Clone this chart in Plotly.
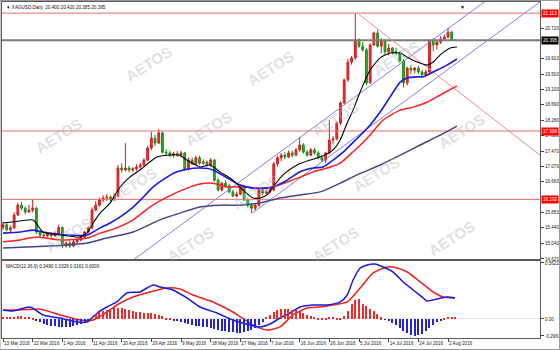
import plotly.graph_objects as go

# ---------------- data ----------------
bars = list(range(123))
opens = [15.45,15.52,15.39,15.44,15.78,16.04,15.96,15.86,15.91,15.96,15.33,15.25,15.23,15.28,15.23,15.28,15.45,14.96,15.04,14.96,
         15.07,15.12,15.20,15.33,15.44,15.91,16.04,16.18,16.23,16.25,16.20,16.28,17.02,16.97,17.02,16.97,17.00,17.05,17.10,17.23,
         17.55,17.81,17.68,17.95,17.44,17.42,17.36,17.40,17.36,17.42,16.99,17.23,17.13,17.29,17.15,17.18,17.10,17.23,16.70,16.44,
         16.62,16.55,16.39,16.28,16.33,16.52,16.18,16.04,15.96,16.04,16.44,16.36,16.39,16.44,17.13,17.29,17.36,17.31,17.42,17.36,
         17.50,17.63,17.44,17.36,17.50,17.42,17.29,17.23,17.42,17.76,17.79,18.21,18.74,19.35,19.82,19.93,20.40,20.24,20.14,19.27,
         20.27,20.59,20.24,20.38,20.09,20.19,20.09,20.06,19.85,19.27,19.66,19.61,19.66,19.56,19.48,19.56,20.40,20.27,20.35,20.43,
         20.48,20.61,20.40]
highs = [15.60,15.58,15.50,15.85,16.10,16.12,16.00,16.05,16.18,16.00,15.38,15.30,15.32,15.32,15.35,15.52,15.48,15.08,15.10,15.12,
         15.16,15.22,15.36,15.48,15.98,16.15,16.25,16.30,16.33,16.30,16.35,17.10,17.15,17.68,17.08,17.05,17.12,17.15,17.28,17.60,
         17.98,17.90,18.05,17.98,17.52,17.48,17.45,17.47,17.48,17.45,17.30,17.30,17.35,17.35,17.25,17.22,17.28,17.26,16.75,16.65,
         16.70,16.60,16.45,16.40,16.55,16.55,16.22,16.10,16.08,16.48,16.50,16.45,16.50,17.18,17.35,17.42,17.45,17.48,17.48,17.55,
         17.84,17.68,17.50,17.55,17.55,17.48,17.35,17.45,18.29,17.86,18.25,18.78,19.38,19.90,19.98,21.11,20.45,20.35,20.20,20.32,
         20.62,20.67,20.45,20.42,20.30,20.22,20.20,20.10,19.90,19.70,19.75,19.70,19.72,19.62,19.62,20.42,20.45,20.40,20.50,20.55,
         20.72,20.65,20.42]
lows = [15.38,15.35,15.30,15.42,15.75,15.90,15.80,15.84,15.85,15.28,15.20,15.18,15.20,15.18,15.20,15.25,14.90,14.92,14.90,14.93,
        15.02,15.08,15.16,15.30,15.40,15.88,16.00,16.12,16.15,16.12,16.15,16.25,16.90,16.93,16.90,16.92,16.95,17.00,17.05,17.20,
        17.50,17.60,17.65,17.40,17.35,17.30,17.30,17.32,17.30,16.95,16.95,17.10,17.10,17.10,17.10,17.05,17.05,16.66,16.40,16.40,
        16.50,16.35,16.25,16.25,16.30,16.15,15.98,15.83,15.90,16.00,16.30,16.32,16.35,16.40,17.05,17.20,17.25,17.28,17.30,17.33,
        17.45,17.40,17.32,17.33,17.38,17.25,17.18,17.15,17.38,17.66,17.75,18.15,18.70,19.30,19.75,19.88,20.20,20.10,19.21,19.25,
        20.25,20.20,20.05,20.02,20.00,20.02,20.00,19.80,19.15,19.20,19.50,19.52,19.50,19.40,19.45,19.50,20.10,20.15,20.30,20.38,
        20.45,20.38,20.385]
closes = [15.52,15.39,15.44,15.78,16.04,15.96,15.86,15.91,15.96,15.33,15.25,15.23,15.28,15.23,15.28,15.45,14.96,15.04,14.96,15.07,
          15.12,15.20,15.33,15.44,15.91,16.04,16.18,16.23,16.25,16.20,16.28,17.02,16.97,17.02,16.97,17.00,17.05,17.10,17.23,17.55,
          17.81,17.68,17.95,17.44,17.42,17.36,17.40,17.36,17.42,16.99,17.23,17.13,17.29,17.15,17.18,17.10,17.23,16.70,16.44,16.62,
          16.55,16.39,16.28,16.33,16.52,16.18,16.04,15.96,16.04,16.44,16.36,16.39,16.44,17.13,17.29,17.36,17.31,17.42,17.36,17.50,
          17.63,17.44,17.36,17.50,17.42,17.29,17.23,17.42,17.76,17.79,18.21,18.74,19.35,19.82,19.93,20.40,20.24,20.14,19.27,20.27,
          20.59,20.24,20.38,20.09,20.19,20.09,20.06,19.85,19.27,19.66,19.61,19.66,19.56,19.48,19.56,20.40,20.27,20.35,20.43,20.48,
          20.61,20.40,20.395]

date_ticks = [0, 8, 16, 24, 32, 40, 48, 56, 64, 72, 80, 88, 96, 104, 112, 120]
date_labels = ["13 Mar 2016", "22 Mar 2016", "1 Apr 2016", "11 Apr 2016", "20 Apr 2016", "29 Apr 2016",
               "9 May 2016", "18 May 2016", "27 May 2016", "7 Jun 2016", "16 Jun 2016", "26 Jun 2016",
               "5 Jul 2016", "14 Jul 2016", "24 Jul 2016", "2 Aug 2016"]

price_ticks = [20.720, 19.910, 19.500, 19.100, 18.690, 18.280, 17.880, 17.470, 17.070, 16.660, 15.850, 15.440, 15.040, 14.620]

# moving averages
ma1_x = [0,4.6,8.1,10.8,15.4,20.8,22.7,24.3,26.2,28.9,31.6,34.2,36.9,39.6,41.5,44.2,47.7,49.6,53.1,55.8,58.5,62,64.7,67.4,69.3,
         71.2,72.8,75.5,79.3,82.8,85.5,89,90.9,92.8,94.4,96.3,99,101.7,104.4,107.1,109,111.7,114.3,116,117.9,120.6,122.4]
ma1_y = [15.57,15.62,15.65,15.33,15.25,15.20,15.31,15.57,15.83,16.10,16.52,16.78,16.97,17.18,17.31,17.36,17.36,17.23,17.05,17.10,
         16.92,16.70,16.44,16.23,16.23,16.31,16.52,16.84,17.10,17.23,17.31,17.50,17.76,18.21,18.55,19.03,19.61,19.93,20.06,20.06,
         19.95,19.82,19.74,19.82,20.01,20.19,20.22]
ma2_x = [0,4.6,8.1,10.8,17.3,22.7,24.3,26.2,28.9,31.6,35.1,37.8,40.5,44.2,46.9,49.6,53.1,56.6,60.4,64,67.4,71.2,72.8,76.6,80.1,
         83.6,86.3,89,91.7,94.4,96.3,99,101.7,104.4,107.1,109,111.7,113.3,116,119.7,122.4]
ma2_y = [15.30,15.33,15.38,15.33,15.25,15.25,15.33,15.44,15.57,15.73,15.99,16.25,16.52,16.78,16.92,16.99,17.02,16.97,16.76,16.57,
         16.49,16.49,16.52,16.70,16.92,17.02,17.05,17.23,17.44,17.70,17.88,18.16,18.50,18.90,19.29,19.40,19.43,19.43,19.56,19.74,19.90]
ma3_x = [0,4.6,9,15.4,22.7,26.2,30.7,35.1,39.6,44.2,49.6,53.1,56.6,60.4,64.7,69.3,72.8,76.6,80.1,83.6,87.4,90.9,94.4,96.3,99,
         102.5,107.1,110.6,114.3,117.9,122.4]
ma3_y = [15.07,15.12,15.20,15.12,15.17,15.30,15.44,15.65,15.99,16.25,16.49,16.60,16.62,16.52,16.52,16.49,16.52,16.65,16.78,16.92,
         17.02,17.15,17.45,17.62,17.90,18.29,18.55,18.63,18.76,18.95,19.19]
ma4_x = [0,8.1,17.3,22.7,28,35.1,42.3,47.7,53.1,58.5,63.9,69.3,74.7,80.1,85.5,90.9,95.5,101.7,107.1,112.5,117.9,122.4]
ma4_y = [14.91,14.94,14.99,15.04,15.17,15.33,15.65,15.83,15.99,16.04,16.04,16.10,16.23,16.31,16.39,16.62,16.84,17.10,17.36,17.63,
         17.89,18.13]

# drawn lines
channel_up_x = [35.1, 130.5]
channel_up_y = [14.59, 21.46]
channel_low_x = [67.2, 144.8]
channel_low_y = [15.83, 21.41]
down_line_x = [95.5, 144.8]
down_line_y = [21.116, 17.36]
h_levels = [21.113, 17.998, 16.192]
last_price = 20.395

# MACD
macd_x = [0,2.7,7.3,10.8,15.4,20,22.7,25.4,28,30.7,33.4,36.9,38.8,40.5,42.3,45.8,49.6,53.1,57.7,62,66.6,69.3,72,74.7,77.4,80.1,
          83.6,87.4,90.9,92.8,94.4,96.3,98.2,100.3,102.5,105.2,107.9,110.6,113.3,114.3,117,119.7,121.9]
macd_y = [0.010,-0.002,0.045,-0.049,-0.085,-0.132,-0.132,-0.026,0.045,0.104,0.210,0.221,0.268,0.304,0.280,0.245,0.151,0.045,
          -0.026,-0.108,-0.167,-0.190,-0.155,-0.085,-0.026,0.045,0.068,0.068,0.104,0.186,0.362,0.503,0.539,0.550,0.515,0.456,
          0.339,0.245,0.151,0.115,0.139,0.162,0.151]
signal_x = [0,4.6,9.9,15.4,20.8,24.3,28,31.6,35.1,39.6,44.2,47.7,51.2,56.6,62,67.4,71.2,74.7,78.2,82,85.5,89,92.8,96.3,99.8,
            103.6,106.3,109,112.5,116,118.7,121.9]
signal_y = [0.010,0.010,0.021,-0.049,-0.108,-0.108,-0.014,0.092,0.162,0.221,0.268,0.256,0.186,0.104,-0.014,-0.167,-0.226,-0.190,
            -0.049,0.033,0.045,0.068,0.104,0.268,0.445,0.515,0.503,0.456,0.339,0.221,0.162,0.151]
hist = [0.020,0.020,0.016,0.016,0.024,0.024,0.016,0.016,0.008,-0.008,-0.024,-0.040,-0.048,-0.056,-0.056,-0.060,-0.064,-0.064,-0.060,-0.056,
        -0.048,-0.040,-0.024,-0.008,0.016,0.040,0.056,0.064,0.072,0.080,0.088,0.088,0.088,0.080,0.072,0.064,0.056,0.056,0.048,0.048,
        0.048,0.040,0.032,0.024,0.008,0.008,-0.008,-0.016,-0.024,-0.032,-0.040,-0.048,-0.056,-0.056,-0.064,-0.064,-0.072,-0.080,-0.088,-0.096,
        -0.096,-0.104,-0.104,-0.112,-0.112,-0.104,-0.096,-0.088,-0.072,-0.048,-0.024,0.016,0.032,0.056,0.072,0.080,0.080,0.080,0.072,0.072,
        0.064,0.048,0.032,0.024,0.016,0.008,0.008,0.008,0.016,0.016,0.008,0.008,0.027,0.067,0.120,0.155,0.160,0.120,0.107,0.080,
        0.067,0.040,0.013,-0.005,-0.013,-0.030,-0.050,-0.070,-0.093,-0.115,-0.128,-0.133,-0.128,-0.120,-0.095,-0.070,-0.045,-0.024,-0.008,0.010,
        0.016,0.020,0.016]

# ---------------- figure ----------------
FONT = "Liberation Sans"
fig = go.Figure()

for lv in h_levels:
    fig.add_trace(go.Scatter(x=[-1, 150], y=[lv, lv], mode="lines", line=dict(color="#ef6a6a", width=1),
                             xaxis="x", yaxis="y", hoverinfo="skip", showlegend=False))
fig.add_trace(go.Scatter(x=[-1, 150], y=[last_price, last_price], mode="lines", line=dict(color="#7a7a7a", width=2),
                         xaxis="x", yaxis="y", hoverinfo="skip", showlegend=False))

fig.add_trace(go.Scatter(x=channel_up_x, y=channel_up_y, mode="lines", line=dict(color="#7f7fe6", width=1),
                         xaxis="x", yaxis="y", showlegend=False))
fig.add_trace(go.Scatter(x=channel_low_x, y=channel_low_y, mode="lines", line=dict(color="#7f7fe6", width=1),
                         xaxis="x", yaxis="y", showlegend=False))
fig.add_trace(go.Scatter(x=down_line_x, y=down_line_y, mode="lines", line=dict(color="#f08a8a", width=1),
                         xaxis="x", yaxis="y", showlegend=False))

for xs, ys, col, w in [(ma4_x, ma4_y, "#45458a", 1.5), (ma3_x, ma3_y, "#ff2020", 1.5),
                       (ma2_x, ma2_y, "#1a1ae0", 1.6), (ma1_x, ma1_y, "#000000", 1.1)]:
    fig.add_trace(go.Scatter(x=xs, y=ys, mode="lines", line=dict(color=col, width=w, shape="spline", smoothing=0.6),
                             xaxis="x", yaxis="y", showlegend=False))

fig.add_trace(go.Candlestick(x=bars, open=opens, high=highs, low=lows, close=closes,
                             increasing=dict(line=dict(color="#d41a1a", width=1), fillcolor="#f03030"),
                             decreasing=dict(line=dict(color="#1c8c1c", width=1), fillcolor="#28b028"),
                             whiskerwidth=0, xaxis="x", yaxis="y", showlegend=False))

fig.add_trace(go.Bar(x=bars, y=hist, width=0.32,
                     marker=dict(color=["#ee2a2a" if v >= 0 else "#2222dd" for v in hist], line=dict(width=0)),
                     xaxis="x2", yaxis="y3", showlegend=False))
fig.add_trace(go.Scatter(x=signal_x, y=signal_y, mode="lines", line=dict(color="#ee2020", width=1.5, shape="spline", smoothing=0.6),
                         xaxis="x2", yaxis="y2", showlegend=False))
fig.add_trace(go.Scatter(x=macd_x, y=macd_y, mode="lines", line=dict(color="#1a1ae0", width=1.5, shape="spline", smoothing=0.6),
                         xaxis="x2", yaxis="y2", showlegend=False))

xr = [-0.27, 144.8]
axis_common = dict(showgrid=False, zeroline=False, linecolor="#5a5a5a", linewidth=1, showline=True, mirror=True,
                   automargin=False)
tf = dict(size=4.6, family=FONT, color="#222")
fig.update_layout(
    width=560, height=350,
    margin=dict(l=2, r=20, t=2, b=12, autoexpand=False),
    paper_bgcolor="white", plot_bgcolor="white",
    font=dict(family=FONT, size=5, color="#333333"),
    bargap=0,
    xaxis=dict(domain=[0, 1], range=xr, anchor="y", showticklabels=False, ticks="",
               rangeslider=dict(visible=False), **axis_common),
    yaxis=dict(domain=[0.2351, 1], range=[14.617, 21.407], side="right", anchor="x",
               tickvals=price_ticks, ticktext=["%.3f" % v for v in price_ticks],
               ticks="outside", ticklen=3, tickcolor="#444", tickfont=tf, tickangle=0, **axis_common),
    xaxis2=dict(domain=[0, 1], range=xr, anchor="y2", tickvals=date_ticks, ticktext=date_labels,
                ticks="outside", ticklen=3, tickcolor="#444", ticklabelposition="outside right", tickangle=0,
                tickfont=tf, **axis_common),
    yaxis2=dict(domain=[0, 0.2292], range=[-0.3198, 0.5857], side="right", anchor="x2",
                tickvals=[0.5622, -0.2963], ticktext=["0.5622", "-0.2963"], tickangle=0,
                ticks="outside", ticklen=3, tickcolor="#444", tickfont=tf, **axis_common),
    yaxis3=dict(range=[-0.152, 0.464], overlaying="y2", side="right", anchor="x2",
                tickvals=[0], ticktext=["0.00"], ticks="outside", ticklen=3, tickcolor="#444", tickangle=0,
                tickfont=tf, showgrid=False, zeroline=True, automargin=False,
                zerolinecolor="#e6e6e6", zerolinewidth=1, showline=False),
)

annotations = []
wm_pos = [(120, 40), (270, 45), (425, 35), (30, 112), (180, 105), (335, 120), (490, 108),
          (105, 185), (255, 192), (405, 175), (40, 258), (190, 268), (335, 268), (480, 262)]
for (px, py) in wm_pos:
    annotations.append(dict(xref="paper", yref="paper", x=(px - 2) / 538, y=1 - (py - 2) / 336,
                            text="<b>AETOS</b>", showarrow=False, textangle=-32,
                            font=dict(size=15, family="Liberation Sans", color="rgba(170,180,180,0.4)")))
for lv in h_levels:
    annotations.append(dict(xref="paper", yref="y", x=1.0, y=lv, xanchor="left", text="%.3f" % lv,
                            showarrow=False, bgcolor="#ff0000", borderpad=1, xshift=1,
                            font=dict(size=4.6, family=FONT, color="white")))
annotations.append(dict(xref="paper", yref="y", x=1.0, y=last_price, xanchor="left", text="%.3f" % last_price,
                        showarrow=False, bgcolor="#000000", borderpad=1, xshift=1,
                        font=dict(size=4.6, family=FONT, color="white")))
annotations.append(dict(xref="paper", yref="paper", x=0.004, y=1, xanchor="left", yanchor="top", yshift=-1,
                        text="▼ XAGUSD,Daily  20.400 20.420 20.385 20.395", showarrow=False,
                        font=dict(size=4.6, family=FONT, color="#111")))
annotations.append(dict(xref="paper", yref="paper", x=0.004, y=0.2292, xanchor="left", yanchor="top", yshift=-1,
                        text="MACD(12,26,9) 0.3490 0.3329 0.0161 0.0000", showarrow=False,
                        font=dict(size=4.6, family=FONT, color="#111")))
annotations.append(dict(xref="x", yref="paper", x=124.0, y=1, yanchor="top", text="▼", showarrow=False,
                        font=dict(size=5, color="#000")))
fig.update_layout(annotations=annotations)

fig.add_shape(type="rect", xref="paper", yref="paper", x0=-2 / 538, x1=557.5 / 538, y0=-11.5 / 336, y1=1 + 1.5 / 336,
              line=dict(color="#9a9a9a", width=1), fillcolor="rgba(0,0,0,0)")

fig.write_html("out.html")
